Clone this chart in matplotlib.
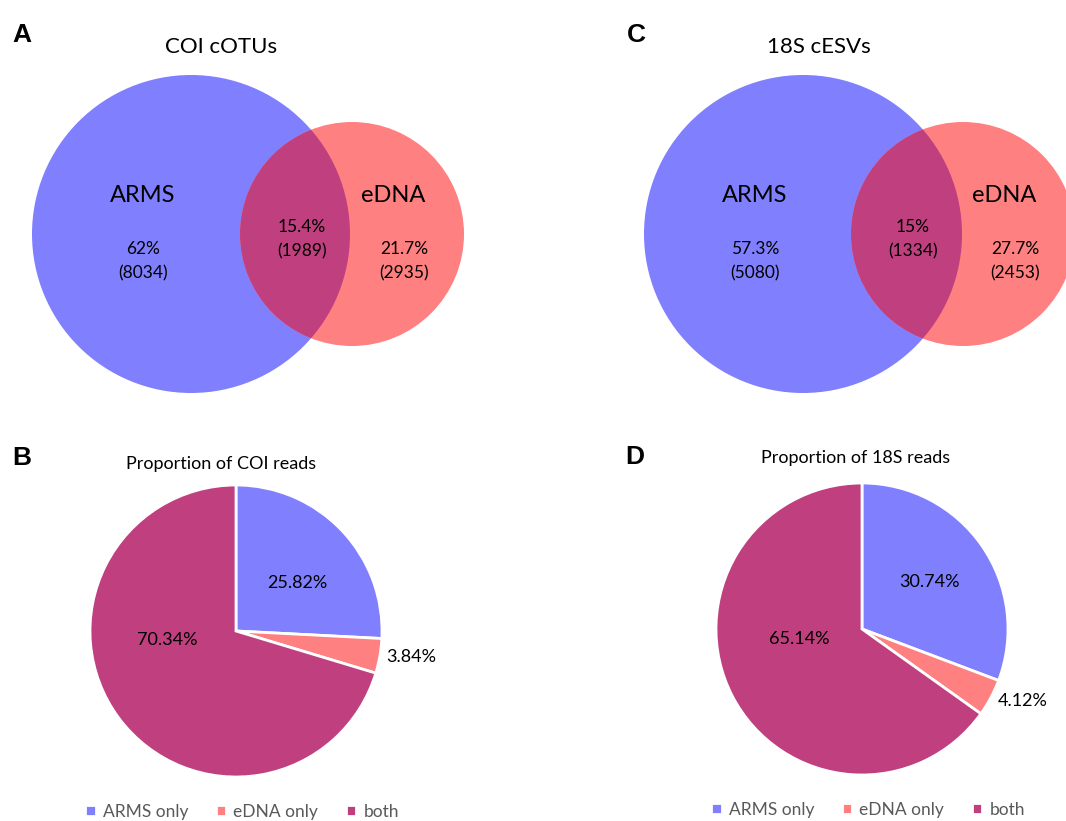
import matplotlib
matplotlib.use("Agg")
import matplotlib.pyplot as plt
from matplotlib.patches import Circle

# ---------------- data ----------------
venn_titles = ["COI cOTUs", "18S cESVs"]
venn_set_names = ["ARMS", "eDNA"]
venn_arms_pct = ["62%", "57.3%"]
venn_arms_n = [8034, 5080]
venn_both_pct = ["15.4%", "15%"]
venn_both_n = [1989, 1334]
venn_edna_pct = ["21.7%", "27.7%"]
venn_edna_n = [2935, 2453]

pie_titles = ["Proportion of COI reads", "Proportion of 18S reads"]
pie_categories = ["ARMS only", "eDNA only", "both"]
pie_coi = [25.82, 3.84, 70.34]
pie_18s = [30.74, 4.12, 65.14]

panel_letters = ["A", "B", "C", "D"]

# ---------------- style ----------------
W, H = 1066, 821
DPI = 100
C_BLUE = "#8080FF"
C_RED = "#FF8080"
C_BOTH = "#C03F7E"
FONT = ["Lato", "DejaVu Sans"]
plt.rcParams["font.family"] = FONT

fig = plt.figure(figsize=(W / DPI, H / DPI), dpi=DPI)
bg = fig.add_axes([0, 0, 1, 1])
bg.set_xlim(0, W)
bg.set_ylim(H, 0)
bg.set_aspect("equal")
bg.axis("off")

# ---------------- Venn diagrams ----------------
venn_layout = [
    dict(bx=191, rb=159, rx=352, rr=112, cy=234, title_x=221),
    dict(bx=803, rb=159, rx=963, rr=112, cy=234, title_x=819),
]
for i, L in enumerate(venn_layout):
    blue = Circle((L["bx"], L["cy"]), L["rb"], facecolor=C_BLUE, edgecolor="none")
    red = Circle((L["rx"], L["cy"]), L["rr"], facecolor=C_RED, edgecolor="none")
    bg.add_patch(blue)
    bg.add_patch(red)
    clip = Circle((L["bx"], L["cy"]), L["rb"], transform=bg.transData)
    ov = Circle((L["rx"], L["cy"]), L["rr"], facecolor=C_BOTH, edgecolor="none")
    bg.add_patch(ov)
    ov.set_clip_path(clip)

    bg.text(L["title_x"], 47, venn_titles[i], fontsize=16, ha="center", va="center")
    xa = L["bx"] - 48
    xo = L["rx"] - 50
    xe = L["rx"] + 48
    bg.text(xa, 195, venn_set_names[0], fontsize=17, ha="center", va="center")
    bg.text(xe - 7, 195, venn_set_names[1], fontsize=17, ha="center", va="center")
    bg.text(xa, 261, f"{venn_arms_pct[i]}\n({venn_arms_n[i]})", fontsize=12.5,
            ha="center", va="center", linespacing=1.6)
    bg.text(xo, 239, f"{venn_both_pct[i]}\n({venn_both_n[i]})", fontsize=12.5,
            ha="center", va="center", linespacing=1.6)
    bg.text(xe + 4, 261, f"{venn_edna_pct[i]}\n({venn_edna_n[i]})", fontsize=12.5,
            ha="center", va="center", linespacing=1.6)

# ---------------- pies ----------------
pie_layout = [
    dict(cx=236, cy=631, r=146, title_x=221, title_y=464, leg_x=242, leg_y=812,
         lab=[(0.42, 0.33, "center"), (1.03, -0.18, "left"), (-0.47, -0.06, "center")]),
    dict(cx=862, cy=629, r=146, title_x=856, title_y=458, leg_x=868, leg_y=810,
         lab=[(0.46, 0.32, "center"), (0.93, -0.49, "left"), (-0.43, -0.07, "center")]),
]
pie_values = [pie_coi, pie_18s]
for i, L in enumerate(pie_layout):
    r = L["r"]
    ax = fig.add_axes([(L["cx"] - r) / W, (H - L["cy"] - r) / H, 2 * r / W, 2 * r / H])
    wedges, _ = ax.pie(pie_values[i], colors=[C_BLUE, C_RED, C_BOTH], startangle=90,
                       counterclock=False, radius=1,
                       wedgeprops=dict(edgecolor="white", linewidth=2))
    ax.set_xlim(-1, 1)
    ax.set_ylim(-1, 1)
    ax.set_aspect("equal")
    ax.axis("off")
    for v, (lx, ly, ha) in zip(pie_values[i], L["lab"]):
        ax.text(lx, ly, f"{v:.2f}%", fontsize=13, ha=ha, va="center", clip_on=False)
    fig.text(L["title_x"] / W, 1 - L["title_y"] / H, pie_titles[i], fontsize=13,
             ha="center", va="center")
    fig.legend(wedges, pie_categories, loc="center", ncol=3, frameon=False,
               bbox_to_anchor=(L["leg_x"] / W, 1 - L["leg_y"] / H),
               fontsize=12.5, labelcolor="#595959", handlelength=0.6,
               handleheight=0.6, handletextpad=0.4, columnspacing=1.6)

# ---------------- panel letters ----------------
letter_pos = [(22, 35), (22, 458), (636, 35), (635, 457)]
for lt, (x, y) in zip(panel_letters, letter_pos):
    bg.text(x, y, lt, fontsize=19, fontweight="bold", family="Liberation Sans",
            ha="center", va="center")

fig.savefig("out.png", dpi=DPI)
